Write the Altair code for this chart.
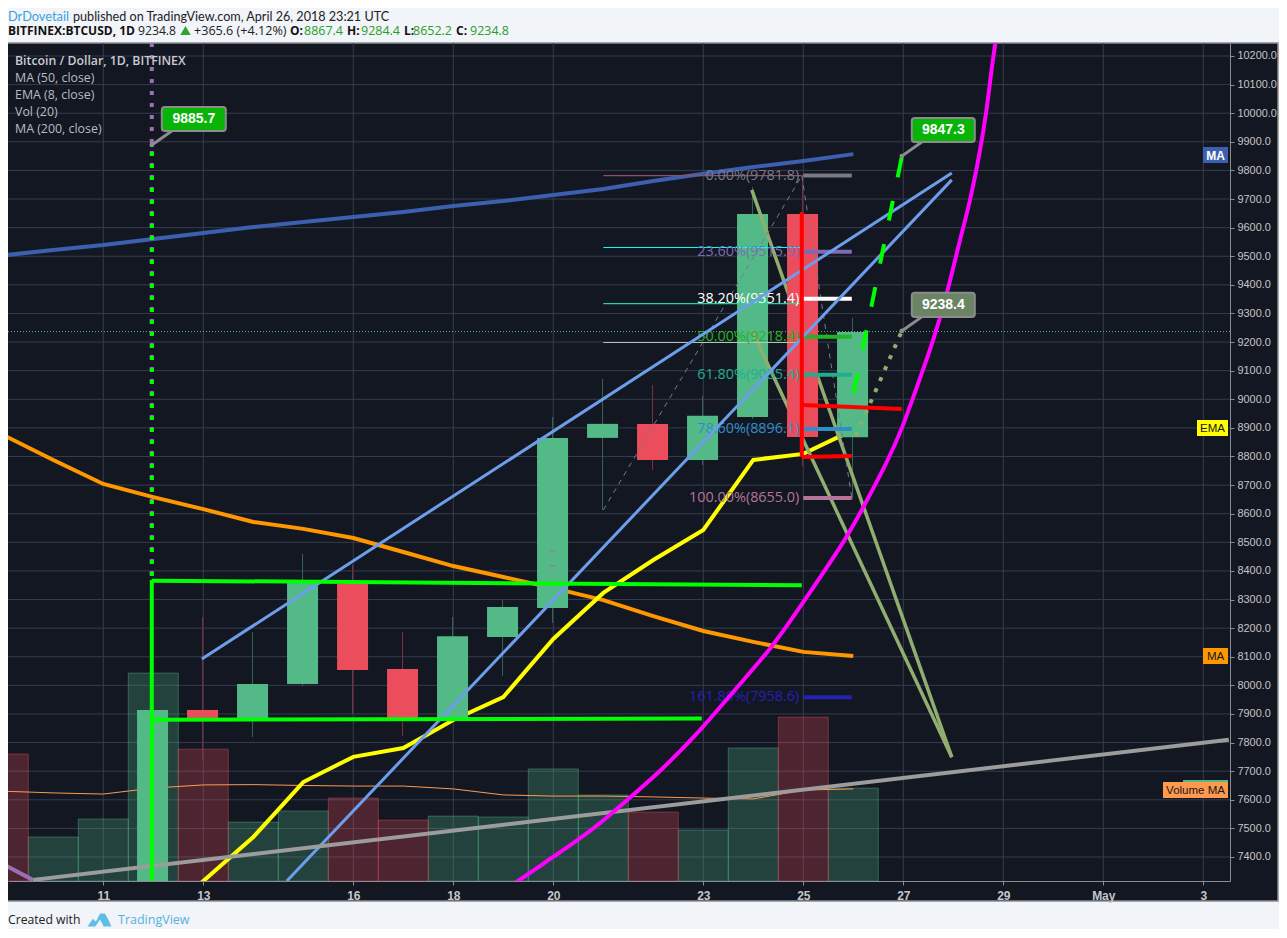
import altair as alt
import pandas as pd

# ---- scale / axis values
X_DOMAIN = [9.094, 33.534]
Y_DOMAIN = [7316.1, 10245.4]
PRICE_TICKS = list(range(7400, 10300, 100))
DAY_TICKS = [11, 13, 16, 18, 20, 23, 25, 27, 29, 31, 33]

# ---- candles
DAYS = [12, 13, 14, 15, 16, 17, 18, 19, 20, 21, 22, 23, 24, 25, 26]
OPEN = [6945, 7914, 7886, 8005, 8354, 8057, 7886, 8169, 8270, 8865, 8914, 8788, 8938, 9648, 8867.4]
CLOSE = [7914, 7886, 8005, 8360, 8054, 7886, 8172, 8274, 8865, 8914, 8788, 8942, 9648, 8868, 9234.8]
HIGH = [7914, 8239, 8186, 8459, 8421, 8186, 8239, 8298, 8938, 9071, 9050, 9011, 9742, 9784, 9284.4]
LOW = [6900, 7739, 7819, 7998, 7900, 7823, 7886, 8033, 8218, 8613, 8753, 8770, 8931, 8767, 8652.2]

# ---- volume (overlaid on the price pane, in price-axis units)
VOL_DAYS = list(range(9, 27))
VOL_TOP = [7760, 7470, 7533, 8043, 7777, 7522, 7561, 7606, 7529, 7543, 7540, 7708, 7617, 7557, 7494, 7781, 7889, 7641]
VOL_UP = [0, 1, 1, 1, 0, 1, 1, 0, 0, 1, 1, 1, 1, 0, 1, 1, 0, 1]
VOL_MA = [7630, 7624, 7620, 7641, 7652, 7653, 7650, 7648, 7648, 7638, 7617, 7613, 7613, 7610, 7606, 7603, 7634, 7638]

# ---- indicators
MA50 = [8875, 8788, 8704, 8658, 8616, 8571, 8547, 8515, 8466, 8417, 8379, 8340, 8298, 8242, 8190, 8152, 8117, 8103]
MA200 = [9503, 9522, 9539, 9560, 9581, 9602, 9620, 9637, 9655, 9676, 9693, 9714, 9735, 9763, 9788, 9812, 9833, 9857]
EMA_DAYS = list(range(12, 27))
EMA8 = [7166, 7316, 7470, 7662, 7750, 7781, 7879, 7959, 8162, 8323, 8438, 8543, 8788, 8809, 8893]

CURVE_X = [18.6, 19.27, 19.99, 20.79, 21.59, 22.13, 22.99, 23.59, 24.39, 24.99, 25.87, 26.19, 26.67, 26.99, 27.27, 27.61, 27.93, 28.13, 28.33, 28.53, 28.67, 28.77, 28.85, 28.93, 29.05]
CURVE_Y = [7240, 7312, 7400, 7494, 7617, 7697, 7851, 7977, 8134, 8288, 8515, 8620, 8777, 8903, 9043, 9207, 9406, 9557, 9686, 9861, 10011, 10162, 10256, 10343, 10480]

# ---- drawings: x1, y1, x2, y2
BLUE_LINES = [(12.97, 8092, 27.97, 9791), (14.67, 7316, 27.97, 9767)]
OLIVE_LINES = [(23.97, 9732, 27.97, 7749), (23.97, 9242, 27.97, 7749)]
RED_LINES = [(24.97, 9655, 24.97, 8798), (24.97, 8798, 25.97, 8802), (24.97, 8980, 26.97, 8966)]
GREEN_LINES = [(11.97, 8368, 11.97, 7200), (11.97, 8366, 24.97, 8350), (11.97, 7880, 22.97, 7884)]
GRAY_LINE = (9.59, 7320, 33.51, 7810)
PURPLE_LINE = (9.07, 7368, 9.59, 7320)
FIB_TREND = [(21.0, 8613, 24.97, 9781.8), (24.97, 9781.8, 25.97, 8655)]
FIB_THIN = [(21.0, 9781.8, 24.97, 9781.8, "#8f4f66"), (21.0, 9530.5, 24.97, 9530.5, "#00ffff"),
            (21.0, 9334.5, 24.97, 9334.5, "#1fd69e"), (21.0, 9198.5, 24.97, 9198.5, "#b9c2b4")]
PROJ_UP = (26.01, 9022, 26.97, 9847.3)
PROJ_FLAT = (26.05, 8872, 26.97, 9238.4)
DOTS_PURPLE = (11.97, 10245, 11.97, 8380)
DOTS_GREEN = (11.97, 9885.7, 11.97, 8368)
SMALL_MARKS = [(19.93, 8470, 20.03, 8470), (19.93, 8418, 20.03, 8418)]
LAST_PRICE = 9236.7

# ---- fibonacci levels
FIB_TEXT = ["0.00%(9781.8)", "23.60%(9515.9)", "38.20%(9351.4)", "50.00%(9218.4)", "61.80%(9085.4)", "78.60%(8896.1)", "100.00%(8655.0)", "161.80%(7958.6)"]
FIB_PRICE = [9781.8, 9515.9, 9351.4, 9218.4, 9085.4, 8896.1, 8655.0, 7958.6]
FIB_COLOR = ["#787b86", "#7d6bb5", "#ffffff", "#24b324", "#1fae8e", "#2d8fc9", "#b5749a", "#2222b5"]

# ---- callouts: x1, x2, y_top, y_bottom, text x, text y, label, fill, tail (x1, y1, x2, y2)
CALLOUTS = [
    (12.17, 13.45, 10022, 9938, 12.81, 9980, "9885.7", "#08b408", (12.37, 9938, 11.97, 9889)),
    (27.17, 28.43, 9983, 9899, 27.80, 9941, "9847.3", "#08b408", (27.37, 9899, 26.97, 9850)),
    (27.17, 28.43, 9372, 9288, 27.80, 9330, "9238.4", "#6b8564", (27.37, 9288, 26.97, 9239)),
]

# ---- texts
LEGEND_TEXT = ["MA (50, close)", "EMA (8, close)", "Vol (20)", "MA (200, close)"]
OHLC = [("O:", "8867.4"), ("H:", "9284.4"), ("L:", "8652.2"), ("C:", "9234.8")]

BG = "#131722"
GRID = "#363c4e"
UP = "#53b987"
DOWN = "#eb4d5c"
UI = "Open Sans"
AX = "Liberation Sans"

xs = alt.Scale(domain=X_DOMAIN, nice=False, zero=False)
ys = alt.Scale(domain=Y_DOMAIN, nice=False, zero=False)
X_AXIS = alt.Axis(
    values=DAY_TICKS, orient="bottom", title=None, grid=False, zindex=1, tickSize=4, tickColor="#8a8d93",
    domainColor="#8a8d93", labelColor="#c4c6cb", labelFont=AX, labelFontSize=12, labelFontWeight="bold",
    labelPadding=5, labelExpr="datum.value == 31 ? 'May' : datum.value == 33 ? '3' : datum.value + ''")
Y_AXIS = alt.Axis(
    values=PRICE_TICKS, orient="right", title=None, grid=False, zindex=1, format=".1f", tickSize=4,
    tickColor="#8a8d93", domainColor="#8a8d93", labelColor="#c4c6cb", labelFont=AX, labelFontSize=10.9,
    labelPadding=3)
X = alt.X("x:Q", scale=xs, axis=X_AXIS)
Y = alt.Y("y:Q", scale=ys, axis=Y_AXIS)


def vx(v):
    return v - 8


def vy(v):
    return v - 43


def segs(rows, color, width, dash=None, opacity=1, offset=None):
    df = pd.DataFrame([r[:4] for r in rows], columns=["x", "y", "x2", "y2"])
    kw = dict(color=color, strokeWidth=width, clip=True, opacity=opacity)
    if dash:
        kw["strokeDash"] = dash
    if offset is not None:
        kw["strokeDashOffset"] = offset
    return alt.Chart(df).mark_rule(**kw).encode(x=X, y=Y, x2="x2:Q", y2="y2:Q")


def line(xv, yv, color, width, interp="linear"):
    df = pd.DataFrame({"x": xv, "y": yv, "i": range(len(xv))})
    return alt.Chart(df).mark_line(color=color, strokeWidth=width, clip=True, interpolate=interp).encode(
        x=X, y=Y, order="i:Q")


def label(text, px, py, color, size=13, weight="normal", font=UI, align="left"):
    return alt.Chart(pd.DataFrame({"t": [text]})).mark_text(
        color=color, fontSize=size, fontWeight=weight, font=font, align=align, baseline="middle"
    ).encode(text="t:N", x=alt.value(vx(px)), y=alt.value(vy(py)))


def chip(x1, x2, y1, y2, color):
    return alt.Chart(pd.DataFrame({"a": [0]})).mark_rect(color=color).encode(
        x=alt.value(vx(x1)), x2=alt.value(vx(x2)), y=alt.value(vy(y1)), y2=alt.value(vy(y2)))


layers = []

# panel
layers.append(alt.Chart(pd.DataFrame({"a": [0]})).mark_rect(fill=BG, stroke="#8a8d93", strokeWidth=1.5).encode(
    x=alt.value(-1), x2=alt.value(1270), y=alt.value(0), y2=alt.value(858)))

# grid
layers.append(alt.Chart(pd.DataFrame({"x": DAY_TICKS})).mark_rule(color=GRID, strokeWidth=1, clip=True).encode(x=X))
layers.append(alt.Chart(pd.DataFrame({"y": PRICE_TICKS})).mark_rule(color=GRID, strokeWidth=1, clip=True).encode(y=Y))

# volume
vol = pd.DataFrame({"x": [d - 0.5 for d in VOL_DAYS], "x2": [d + 0.5 for d in VOL_DAYS], "y": VOL_TOP,
                    "y2": [Y_DOMAIN[0]] * len(VOL_DAYS), "up": VOL_UP})
for flag, col in [(1, UP), (0, DOWN)]:
    layers.append(alt.Chart(vol[vol.up == flag]).mark_rect(
        fill=col, fillOpacity=0.27, stroke=col, strokeOpacity=0.4, strokeWidth=1, clip=True).encode(
        x=X, x2="x2:Q", y=Y, y2="y2:Q"))
layers.append(line(VOL_DAYS, VOL_MA, "#ff9a4d", 1))

# moving averages
layers.append(line(VOL_DAYS, MA50, "#ff9800", 4))
layers.append(line(VOL_DAYS, MA200, "#3d5fb0", 4))
layers.append(line(EMA_DAYS, EMA8, "#ffff00", 4))

# candles
c = pd.DataFrame({"d": DAYS, "o": OPEN, "c": CLOSE, "h": HIGH, "l": LOW})
c["xc"] = c.d - 0.015
c["x1"] = c.xc - 0.31
c["x2"] = c.xc + 0.31
c["up"] = c.c >= c.o


def wicks(df, col):
    return alt.Chart(df.rename(columns={"xc": "x", "h": "y"})).mark_rule(color=col, strokeWidth=1, clip=True).encode(
        x=X, y=Y, y2="l:Q")


def bodies(df, col):
    return alt.Chart(df.rename(columns={"x1": "x", "o": "y"})).mark_rect(color=col, clip=True).encode(
        x=X, x2="x2:Q", y=Y, y2="c:Q")


layers.append(wicks(c[c.up], "#336854"))
layers.append(wicks(c[~c.up], "#7f323f"))
layers.append(bodies(c[c.up], UP))
layers.append(bodies(c[(~c.up) & (c.d != 25)], DOWN))
layers.append(segs(SMALL_MARKS, "#9b6fb5", 1.5, opacity=0.7))

# olive wedge runs in front of day 24, behind day 25
layers.append(segs(OLIVE_LINES, "#8fae6f", 3.5))
layers.append(bodies(c[c.d == 25], DOWN))

# last price line
layers.append(alt.Chart(pd.DataFrame({"y": [LAST_PRICE]})).mark_rule(color=UP, strokeWidth=1, strokeDash=[1, 2], clip=True).encode(y=Y))

# fib lines
layers.append(segs(FIB_TREND, "#787b86", 1, dash=[5, 5]))
for row in FIB_THIN:
    layers.append(segs([row], row[4], 1.2))

fib = pd.DataFrame({"x": [25.0] * 8, "x2": [25.97] * 8, "y": FIB_PRICE, "t": FIB_TEXT, "col": FIB_COLOR})
for _, r in fib.iterrows():
    one = pd.DataFrame([r])
    layers.append(alt.Chart(one).mark_rule(color=r.col, strokeWidth=4, clip=True).encode(x=X, x2="x2:Q", y=Y))
    layers.append(alt.Chart(one).mark_text(color=r.col, font=UI, fontSize=14.4, align="right", baseline="middle", dx=-4).encode(
        x=X, y=Y, text="t:N"))

# drawings
layers.append(segs(BLUE_LINES, "#6d9eeb", 3))
layers.append(segs([GRAY_LINE], "#9c9c9c", 4))
layers.append(segs([PURPLE_LINE], "#9b6fb5", 4))
layers.append(line(CURVE_X, CURVE_Y, "#ff00ff", 4, "basis"))
layers.append(segs(GREEN_LINES, "#00ff00", 4))
layers.append(segs(RED_LINES, "#ff0000", 4))
layers.append(segs([DOTS_PURPLE], "#9b6fb5", 4, dash=[4, 8]))
layers.append(segs([DOTS_GREEN], "#00ff00", 4, dash=[4, 8], offset=6))
layers.append(segs([PROJ_UP], "#00ff00", 4, dash=[20, 24]))
layers.append(segs([PROJ_FLAT], "#8fae6f", 4, dash=[4, 8]))

# callouts
for x1, x2, yt, yb, tx, ty, txt, fill, tail in CALLOUTS:
    layers.append(segs([tail], "#8c8c8c", 3))
    layers.append(alt.Chart(pd.DataFrame({"x": [tail[2]], "y": [tail[3]]})).mark_point(
        filled=True, color="#8c8c8c", size=22, opacity=1).encode(x=X, y=Y))
    layers.append(alt.Chart(pd.DataFrame({"x": [x1], "x2": [x2], "y": [yt], "y2": [yb]})).mark_rect(
        fill=fill, stroke="#8c8c8c", strokeWidth=2, cornerRadius=3).encode(x=X, x2="x2:Q", y=Y, y2="y2:Q"))
    layers.append(alt.Chart(pd.DataFrame({"x": [tx], "y": [ty], "t": [txt]})).mark_text(
        color="white", font=AX, fontSize=14, fontWeight="bold", baseline="middle").encode(x=X, y=Y, text="t:N"))

# price-axis tags
layers.append(chip(1203, 1228, 147, 163, "#3d5fb0"))
layers.append(label("MA", 1215.5, 155.5, "white", 12, "bold", AX, "center"))
layers.append(chip(1197, 1228, 420, 436, "#ffff00"))
layers.append(label("EMA", 1212.5, 428.5, "#131722", 11.5, "normal", AX, "center"))
layers.append(chip(1203, 1228, 648, 664, "#ff9800"))
layers.append(label("MA", 1215.5, 656.5, "#131722", 11.5, "normal", AX, "center"))
layers.append(chip(1183, 1228, 780, 783, UP))
layers.append(chip(1163, 1228, 782, 798, "#ff9a4d"))
layers.append(label("Volume MA", 1195.5, 790.5, "#131722", 11.5, "normal", AX, "center"))

# pane legend
layers.append(label("Bitcoin / Dollar, 1D, BITFINEX", 15, 60.5, "#c9ccd2", 12.3, 600))
for i, t in enumerate(LEGEND_TEXT):
    layers.append(label(t, 15, 77.5 + 17 * i, "#b9bcc2", 12.4))

# header
layers.append(label("DrDovetail", 8, 16.5, "#3ba1dc", 12.8, "normal", "Lato"))
layers.append(label("published on TradingView.com, April 26, 2018 23:21 UTC", 73, 16.5, "#222222", 12.6, "normal", "Lato"))
layers.append(label("BITFINEX:BTCUSD, 1D", 8, 30.5, "#111111", 12, "bold"))
layers.append(label("9234.8", 138, 30.5, "#222222", 12.2))
layers.append(alt.Chart(pd.DataFrame({"a": [0]})).mark_point(shape="triangle-up", filled=True, color="#2fa52f", size=110, opacity=1).encode(
    x=alt.value(vx(185.5)), y=alt.value(vy(30.5))))
layers.append(label("+365.6 (+4.12%)", 194, 30.5, "#222222", 12.6))
for (k, v), kx, vxp in zip(OHLC, [290, 347, 404, 456], [304, 361, 413, 470]):
    layers.append(label(k, kx, 30.5, "#111111", 12, "bold"))
    layers.append(label(v, vxp, 30.5, "#27a027", 12.5))

# footer
layers.append(label("Created with", 8, 920, "#222222", 12.2))
layers.append(alt.Chart(pd.DataFrame({"a": [0]})).mark_point(
    shape="M-1,0.55 L-0.55,-0.1 L-0.3,0.15 L0.05,-0.55 L0.45,-0.55 L0.7,-0.1 L1,0.55 L0.35,0.55 L0.05,-0.05 L-0.35,0.55 Z",
    filled=True, color="#5fbde8", size=576, opacity=1).encode(x=alt.value(vx(99.5)), y=alt.value(vy(920))))
layers.append(label("TradingView", 118, 920, "#56b1e0", 12.5))

chart = alt.layer(*layers).properties(
    width=1222, height=838,
    padding={"left": 0, "top": 35, "right": 49, "bottom": 48},
    autosize=alt.AutoSizeParams(type="none"),
).configure(background="#f1f4f8").configure_view(stroke=None)

chart.save("out.html", embed_options={"renderer": "svg", "actions": False})
